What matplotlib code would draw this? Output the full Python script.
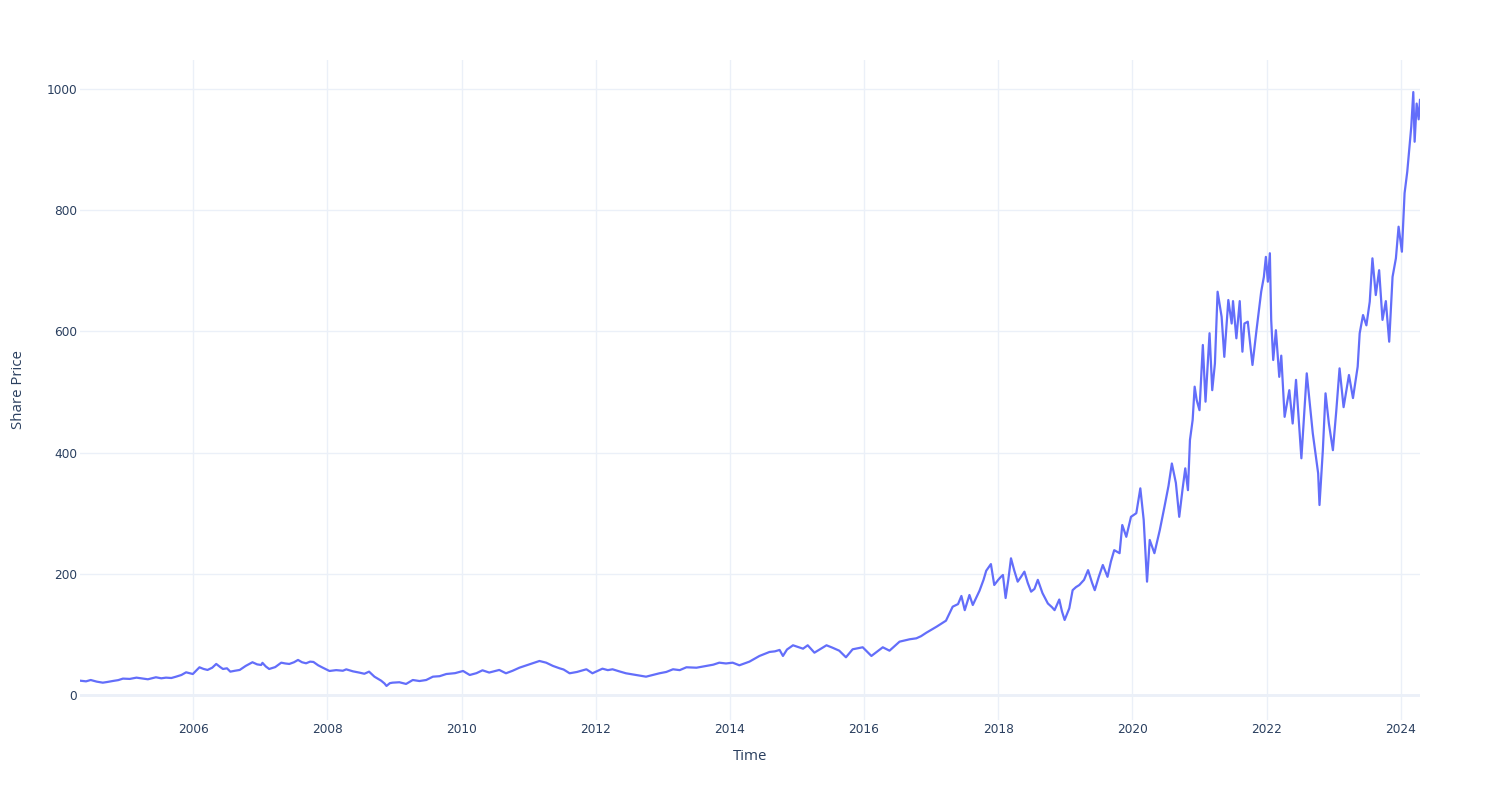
import matplotlib
matplotlib.use("Agg")
import matplotlib.pyplot as plt
import pandas as pd

# Decimal-year time stamps
years = [
    2004.31, 2004.40, 2004.47, 2004.56, 2004.65, 2004.72, 2004.80, 2004.88, 2004.95,
    2005.05, 2005.15, 2005.25, 2005.32, 2005.44, 2005.52, 2005.59, 2005.67, 2005.74,
    2005.82, 2005.89, 2005.99, 2006.09, 2006.15, 2006.21, 2006.28, 2006.34, 2006.40,
    2006.44, 2006.50, 2006.55, 2006.62, 2006.69, 2006.78, 2006.88, 2006.95, 2007.01,
    2007.03, 2007.08, 2007.13, 2007.22, 2007.31, 2007.37, 2007.43, 2007.50, 2007.56,
    2007.62, 2007.68, 2007.74, 2007.79, 2007.86, 2007.93, 2008.03, 2008.13, 2008.23,
    2008.28, 2008.38, 2008.48, 2008.55, 2008.62, 2008.70, 2008.80, 2008.85, 2008.88,
    2008.93, 2008.97, 2009.07, 2009.17, 2009.27, 2009.37, 2009.47, 2009.57, 2009.67,
    2009.77, 2009.90, 2010.02, 2010.12, 2010.22, 2010.31, 2010.41, 2010.56, 2010.66,
    2010.76, 2010.86, 2011.01, 2011.16, 2011.26, 2011.36, 2011.46, 2011.52, 2011.61,
    2011.72, 2011.86, 2011.95, 2012.10, 2012.18, 2012.25, 2012.35, 2012.45, 2012.60,
    2012.75, 2012.85, 2012.95, 2013.05, 2013.15, 2013.25, 2013.35, 2013.50, 2013.65,
    2013.75, 2013.84, 2013.94, 2014.04, 2014.14, 2014.29, 2014.44, 2014.59, 2014.67,
    2014.74, 2014.79, 2014.85, 2014.94, 2015.09, 2015.16, 2015.26, 2015.35, 2015.44,
    2015.53, 2015.63, 2015.73, 2015.83, 2015.98, 2016.11, 2016.20, 2016.28, 2016.38,
    2016.45, 2016.53, 2016.68, 2016.78, 2016.85, 2016.93, 2017.08, 2017.22, 2017.32,
    2017.40, 2017.45, 2017.50, 2017.57, 2017.62, 2017.72, 2017.78, 2017.82, 2017.89,
    2017.94, 2018.00, 2018.04, 2018.07, 2018.11, 2018.15, 2018.19, 2018.24, 2018.29,
    2018.34, 2018.39, 2018.44, 2018.49, 2018.54, 2018.59, 2018.66, 2018.74, 2018.80,
    2018.84, 2018.91, 2018.95, 2018.99, 2019.06, 2019.11, 2019.16, 2019.21, 2019.28,
    2019.34, 2019.40, 2019.44, 2019.50, 2019.56, 2019.63, 2019.68, 2019.73, 2019.81,
    2019.85, 2019.91, 2019.98, 2020.06, 2020.12, 2020.17, 2020.22, 2020.26, 2020.33,
    2020.41, 2020.48, 2020.54, 2020.59, 2020.65, 2020.70, 2020.75, 2020.79, 2020.83,
    2020.86, 2020.90, 2020.93, 2020.96, 2021.00, 2021.05, 2021.09, 2021.15, 2021.19,
    2021.23, 2021.27, 2021.33, 2021.37, 2021.43, 2021.48, 2021.50, 2021.55, 2021.60,
    2021.64, 2021.67, 2021.72, 2021.79, 2021.85, 2021.92, 2021.96, 2021.99, 2022.02,
    2022.05, 2022.07, 2022.10, 2022.14, 2022.19, 2022.22, 2022.27, 2022.34, 2022.39,
    2022.44, 2022.52, 2022.60, 2022.69, 2022.77, 2022.79, 2022.84, 2022.88, 2022.93,
    2022.99, 2023.04, 2023.09, 2023.15, 2023.23, 2023.29, 2023.36, 2023.39, 2023.44,
    2023.49, 2023.54, 2023.58, 2023.63, 2023.68, 2023.73, 2023.78, 2023.83, 2023.88,
    2023.93, 2023.97, 2024.02, 2024.06, 2024.10, 2024.12, 2024.16, 2024.19, 2024.21,
    2024.24, 2024.27, 2024.29,
]

share_price = [
    23.6, 22.5, 24.7, 22.0, 20.3, 21.5, 23.1, 24.5, 27.0,
    26.5, 28.6, 27.0, 25.9, 29.2, 27.5, 28.6, 28.0, 30.2,
    33.0, 37.4, 34.6, 45.7, 43.0, 41.3, 45.0, 51.2, 46.0,
    42.9, 44.0, 38.5, 40.0, 41.3, 48.0, 54.0, 50.5, 49.5,
    53.0, 47.0, 42.9, 46.0, 53.3, 52.0, 51.2, 54.0, 57.8,
    54.0, 52.3, 55.0, 54.5, 49.0, 45.0, 39.6, 41.0, 40.0,
    42.3, 39.0, 36.8, 35.0, 38.5, 30.2, 23.6, 19.0, 14.9,
    19.5, 20.3, 21.0, 18.2, 24.7, 23.0, 24.7, 30.2, 31.0,
    34.6, 36.0, 39.6, 33.0, 36.0, 40.7, 37.0, 41.3, 35.8,
    40.0, 45.0, 50.6, 56.1, 53.3, 48.0, 44.0, 42.0, 35.8,
    38.0, 42.4, 35.8, 43.4, 41.0, 42.4, 39.0, 35.8, 33.0,
    30.2, 33.0, 35.8, 38.0, 42.4, 41.0, 45.7, 45.0, 47.9,
    50.0, 53.3, 52.0, 53.3, 49.0, 55.0, 64.4, 71.0, 72.0,
    74.3, 64.4, 75.0, 82.0, 76.4, 82.0, 69.8, 76.0, 82.0,
    78.0, 73.1, 62.2, 75.4, 78.7, 64.4, 72.0, 78.7, 73.1,
    80.0, 88.0, 91.9, 93.5, 97.0, 102.8, 112.7, 122.6, 145.7,
    150.0, 163.4, 140.0, 165.0, 148.5, 172.0, 190.0, 205.0, 216.0,
    181.5, 190.0, 195.0, 198.0, 160.0, 190.0, 225.5, 205.0, 187.0,
    195.0, 203.5, 185.0, 170.5, 175.0, 190.0, 168.0, 151.0, 145.0,
    140.0, 157.5, 138.0, 123.8, 143.0, 173.0, 178.0, 181.5, 190.0,
    206.0, 185.0, 173.0, 195.0, 214.5, 195.0, 220.0, 239.0, 234.0,
    280.5, 261.0, 294.0, 300.0, 341.0, 289.0, 187.0, 255.8, 234.0,
    272.0, 310.7, 345.0, 382.0, 350.0, 294.0, 340.0, 374.0, 338.0,
    420.8, 453.8, 508.8, 486.8, 470.0, 577.6, 484.0, 597.0, 503.0,
    547.0, 665.5, 624.0, 558.0, 651.8, 613.0, 650.0, 588.6, 650.0,
    566.5, 613.0, 616.0, 544.6, 602.0, 665.5, 690.0, 723.0, 682.0,
    729.0, 618.8, 552.8, 602.0, 525.0, 560.0, 459.0, 503.0, 448.0,
    520.0, 390.6, 530.8, 431.8, 365.8, 313.5, 404.0, 497.8, 448.0,
    404.0, 467.5, 539.0, 475.0, 528.0, 490.0, 541.8, 597.0, 627.0,
    610.0, 649.0, 720.6, 660.0, 701.0, 619.0, 650.0, 583.0, 690.0,
    720.6, 772.8, 731.5, 828.0, 863.5, 888.0, 938.0, 995.0, 913.0,
    976.0, 950.0, 982.0,
]

y_ticks = [0, 200, 400, 600, 800, 1000]
x_tick_years = [2006, 2008, 2010, 2012, 2014, 2016, 2018, 2020, 2022, 2024]

dates = [pd.Timestamp(int(y), 1, 1) + pd.Timedelta(days=(y - int(y)) * 365.25) for y in years]

W, H = 1500, 800
fig = plt.figure(figsize=(W / 100, H / 100), dpi=100)
ax = fig.add_axes([80 / W, 1 - 720 / H, 1340 / W, 660 / H])

grid_col = "#EBF0F8"
text_col = "#2a3f5f"

ax.plot(dates, share_price, color="#636efa", linewidth=1.6, solid_joinstyle="round", zorder=3)

ax.set_xlim(dates[0], dates[-1])
ax.set_ylim(-41.3, 1047.9)

ax.set_yticks(y_ticks)
ax.set_yticklabels([str(v) for v in y_ticks])
ax.set_xticks([pd.Timestamp(y, 1, 1) for y in x_tick_years])
ax.set_xticklabels([str(y) for y in x_tick_years])

ax.grid(True, color=grid_col, linewidth=1.0, zorder=0)
ax.axhline(0, color=grid_col, linewidth=2.0, zorder=1)
for s in ax.spines.values():
    s.set_visible(False)
ax.tick_params(axis="both", length=0, colors=text_col, labelsize=8.7)
ax.tick_params(axis="x", pad=2)
ax.tick_params(axis="y", pad=2)
for lab in ax.get_xticklabels() + ax.get_yticklabels():
    lab.set_fontfamily("DejaVu Sans")

fig.text(750 / W, 1 - 756 / H, "Time", ha="center", va="center",
         fontsize=10.8, color=text_col, family="Open Sans")
fig.text(19 / W, 1 - 390 / H, "Share Price", ha="center", va="center", rotation=90,
         fontsize=10.8, color=text_col, family="Open Sans")

fig.savefig("out.png", dpi=100, facecolor="white")
